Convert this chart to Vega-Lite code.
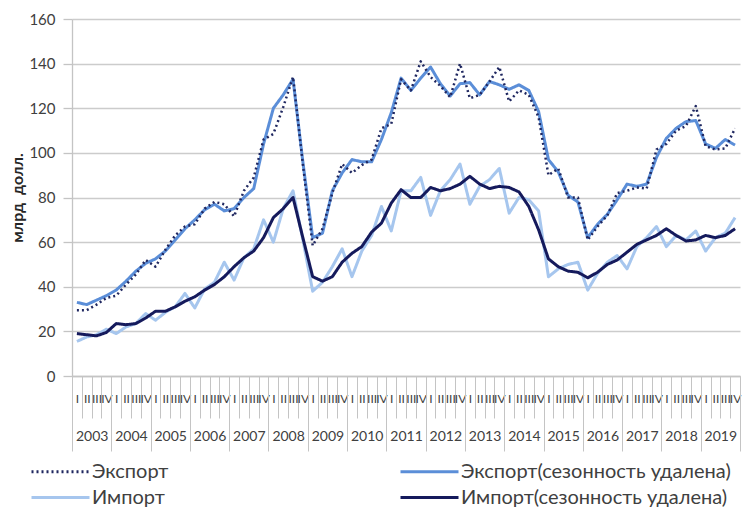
{
  "$schema": "https://vega.github.io/schema/vega-lite/v6.json",
  "width": 668,
  "height": 357,
  "autosize": {"type": "none"},
  "padding": {"left": 72, "top": 19, "right": 2, "bottom": 135},
  "background": "white",
  "config": {"view": {"stroke": null}, "font": "Lato"},
  "data": {"values": [
    {"t":0,"e":29.5,"es":33,"i":15.5,"is":19},
    {"t":1,"e":29.5,"es":32,"i":17.5,"is":18.5},
    {"t":2,"e":32,"es":34,"i":18.5,"is":18},
    {"t":3,"e":35,"es":36,"i":21,"is":19.5},
    {"t":4,"e":36,"es":38.5,"i":19,"is":23.5},
    {"t":5,"e":41,"es":42.5,"i":22,"is":23},
    {"t":6,"e":45.5,"es":47,"i":23.5,"is":23.5},
    {"t":7,"e":52,"es":50.5,"i":28,"is":26},
    {"t":8,"e":49,"es":52.5,"i":25,"is":29},
    {"t":9,"e":56.5,"es":56,"i":28.5,"is":29},
    {"t":10,"e":63,"es":61,"i":31,"is":31},
    {"t":11,"e":67,"es":66,"i":37,"is":33.5},
    {"t":12,"e":68,"es":70,"i":30.5,"is":35.5},
    {"t":13,"e":75,"es":74.5,"i":39,"is":38.5},
    {"t":14,"e":78,"es":77,"i":42,"is":41},
    {"t":15,"e":77,"es":74,"i":51,"is":44.5},
    {"t":16,"e":71.5,"es":75,"i":43,"is":49},
    {"t":17,"e":83,"es":80,"i":53,"is":53},
    {"t":18,"e":89,"es":84,"i":57,"is":56},
    {"t":19,"e":106,"es":104,"i":70,"is":62},
    {"t":20,"e":108.5,"es":120,"i":60,"is":71},
    {"t":21,"e":120.5,"es":126,"i":75,"is":75},
    {"t":22,"e":134,"es":133,"i":83,"is":80},
    {"t":23,"e":95,"es":96,"i":61,"is":62},
    {"t":24,"e":58.5,"es":62,"i":38,"is":44.5},
    {"t":25,"e":66,"es":64,"i":42,"is":42.5},
    {"t":26,"e":82,"es":83,"i":49,"is":44.5},
    {"t":27,"e":95,"es":91,"i":57,"is":51},
    {"t":28,"e":91,"es":97,"i":44.5,"is":55},
    {"t":29,"e":94.5,"es":96,"i":56,"is":58},
    {"t":30,"e":97,"es":96,"i":63,"is":64.5},
    {"t":31,"e":111,"es":106,"i":76,"is":68.5},
    {"t":32,"e":113,"es":118,"i":65,"is":77.5},
    {"t":33,"e":133,"es":133.5,"i":83,"is":83.5},
    {"t":34,"e":128,"es":128,"i":83,"is":80},
    {"t":35,"e":141,"es":133.5,"i":89,"is":80},
    {"t":36,"e":134,"es":138.5,"i":72,"is":84.5},
    {"t":37,"e":130,"es":131,"i":83,"is":83},
    {"t":38,"e":125,"es":125.5,"i":88,"is":84},
    {"t":39,"e":140,"es":131,"i":95,"is":86},
    {"t":40,"e":124.5,"es":131.5,"i":77,"is":89.5},
    {"t":41,"e":126,"es":126,"i":85,"is":86},
    {"t":42,"e":132,"es":132,"i":88,"is":84},
    {"t":43,"e":138.5,"es":130.5,"i":93,"is":85},
    {"t":44,"e":123,"es":128.5,"i":73,"is":84.5},
    {"t":45,"e":128,"es":130.5,"i":80,"is":82.5},
    {"t":46,"e":126,"es":128,"i":79,"is":76},
    {"t":47,"e":116,"es":118.5,"i":74,"is":65.5},
    {"t":48,"e":90,"es":97,"i":44.5,"is":52.5},
    {"t":49,"e":93,"es":91.5,"i":48,"is":49},
    {"t":50,"e":80,"es":81,"i":50,"is":47},
    {"t":51,"e":80,"es":78,"i":51,"is":46.5},
    {"t":52,"e":61,"es":62,"i":38.5,"is":44},
    {"t":53,"e":67,"es":68,"i":46,"is":46.5},
    {"t":54,"e":72,"es":72.5,"i":51,"is":50},
    {"t":55,"e":82,"es":79,"i":54,"is":52},
    {"t":56,"e":83,"es":86,"i":48,"is":55.5},
    {"t":57,"e":84.5,"es":85,"i":58,"is":59},
    {"t":58,"e":84,"es":86,"i":62,"is":61},
    {"t":59,"e":101.5,"es":98,"i":67,"is":63},
    {"t":60,"e":104,"es":106.5,"i":58,"is":66},
    {"t":61,"e":110,"es":111,"i":63,"is":63},
    {"t":62,"e":112,"es":114,"i":61,"is":60.5},
    {"t":63,"e":121,"es":114.5,"i":65,"is":61},
    {"t":64,"e":103,"es":104,"i":56,"is":63},
    {"t":65,"e":101.5,"es":102,"i":62,"is":62},
    {"t":66,"e":102,"es":106,"i":64,"is":63},
    {"t":67,"e":111,"es":103.5,"i":71,"is":66}
  ]},
  "transform": [{"fold": ["e", "es", "i", "is"], "as": ["series", "value"]}],
  "encoding": {
    "y": {
      "field": "value", "type": "quantitative",
      "scale": {"domain": [0, 160], "nice": false},
      "axis": {
        "title": "млрд\u00a0\u00a0долл.",
        "values": [0, 20, 40, 60, 80, 100, 120, 140, 160],
        "grid": true, "gridColor": "#cccccc", "gridWidth": 1.3,
        "domain": true, "domainColor": "#c4c4c4", "domainWidth": 1.3,
        "ticks": true, "tickSize": 9, "tickColor": "#c4c4c4", "tickWidth": 1.3,
        "labelFont": "Lato", "labelFontSize": 15, "labelColor": "#404040", "labelPadding": 8,
        "titleFont": "Lato", "titleFontSize": 16, "titleFontWeight": "bold", "titleColor": "#262626", "titlePadding": 3
      }
    },
    "color": {
      "field": "series", "type": "nominal",
      "scale": {"domain": ["e", "i", "es", "is"], "range": ["#1f2760", "#a6c6ee", "#5b8ed8", "#151a5c"]},
      "legend": {
        "orient": "none", "legendX": -42, "legendY": 441,
        "columns": 2, "columnPadding": 225, "rowPadding": 4,
        "symbolType": "M-1,0H4.8", "symbolSize": 400, "symbolStrokeWidth": 3,
        "labelFont": "Lato", "labelFontSize": 20, "labelColor": "#404040", "labelOffset": 39, "labelLimit": 400,
        "title": null,
        "labelExpr": "datum.label == 'e' ? 'Экспорт' : datum.label == 'es' ? 'Экспорт(сезонность удалена)' : datum.label == 'i' ? 'Импорт' : 'Импорт(сезонность удалена)'"
      }
    },
    "strokeDash": {
      "field": "series", "type": "nominal",
      "scale": {"domain": ["e", "i", "es", "is"], "range": [[2, 3], [1, 0], [1, 0], [1, 0]]}
    }
  },
  "layer": [
    {
      "transform": [{"filter": "datum.series == 'i'"}],
      "mark": {"type": "line", "strokeWidth": 3, "strokeJoin": "round"},
      "encoding": {
        "x": {
          "field": "t", "type": "quantitative",
          "scale": {"domain": [-0.5, 67.5], "nice": false, "zero": false},
          "axis": {
            "orient": "bottom", "title": null, "grid": false, "labels": false,
            "values": [-0.5,0.5,1.5,2.5,3.5,4.5,5.5,6.5,7.5,8.5,9.5,10.5,11.5,12.5,13.5,14.5,15.5,16.5,17.5,18.5,19.5,20.5,21.5,22.5,23.5,24.5,25.5,26.5,27.5,28.5,29.5,30.5,31.5,32.5,33.5,34.5,35.5,36.5,37.5,38.5,39.5,40.5,41.5,42.5,43.5,44.5,45.5,46.5,47.5,48.5,49.5,50.5,51.5,52.5,53.5,54.5,55.5,56.5,57.5,58.5,59.5,60.5,61.5,62.5,63.5,64.5,65.5,66.5,67.5],
            "ticks": true, "tickSize": 42, "tickColor": "#c4c4c4", "tickWidth": 1,
            "domain": true, "domainColor": "#c4c4c4", "domainWidth": 1.3
          }
        }
      }
    },
    {
      "transform": [{"filter": "datum.series == 'es'"}],
      "mark": {"type": "line", "strokeWidth": 3, "strokeJoin": "round"},
      "encoding": {
        "x": {
          "field": "t", "type": "quantitative",
          "axis": {
            "orient": "bottom", "title": null, "grid": false, "ticks": false, "domain": false,
            "values": [0,1,2,3,4,5,6,7,8,9,10,11,12,13,14,15,16,17,18,19,20,21,22,23,24,25,26,27,28,29,30,31,32,33,34,35,36,37,38,39,40,41,42,43,44,45,46,47,48,49,50,51,52,53,54,55,56,57,58,59,60,61,62,63,64,65,66,67],
            "labelExpr": "['I','II','III','IV'][datum.value % 4]",
            "labelFont": "Lato", "labelFontSize": 12, "labelColor": "#404040", "labelPadding": 17,
            "labelOverlap": false, "labelFlush": false, "labelBound": false
          }
        }
      }
    },
    {
      "transform": [{"filter": "datum.series == 'e'"}],
      "mark": {"type": "line", "strokeWidth": 2.5, "strokeJoin": "round"},
      "encoding": {
        "x": {
          "field": "t", "type": "quantitative",
          "axis": {
            "orient": "bottom", "title": null, "grid": false, "ticks": false, "domain": false,
            "values": [1.5,5.5,9.5,13.5,17.5,21.5,25.5,29.5,33.5,37.5,41.5,45.5,49.5,53.5,57.5,61.5,65.5],
            "labelExpr": "'' + (2003 + floor(datum.value / 4))",
            "labelFont": "Lato", "labelFontSize": 14, "labelColor": "#404040", "labelPadding": 53,
            "labelOverlap": false, "labelFlush": false, "labelBound": false
          }
        }
      }
    },
    {
      "transform": [{"filter": "datum.series == 'is'"}],
      "mark": {"type": "line", "strokeWidth": 3, "strokeJoin": "round"},
      "encoding": {
        "x": {
          "field": "t", "type": "quantitative",
          "axis": {
            "orient": "bottom", "title": null, "grid": false, "labels": false, "domain": false,
            "values": [-0.5,3.5,7.5,11.5,15.5,19.5,23.5,27.5,31.5,35.5,39.5,43.5,47.5,51.5,55.5,59.5,63.5,67.5],
            "ticks": true, "tickSize": 75, "tickColor": "#c4c4c4", "tickWidth": 1
          }
        }
      }
    }
  ],
  "resolve": {"axis": {"x": "independent"}}
}
